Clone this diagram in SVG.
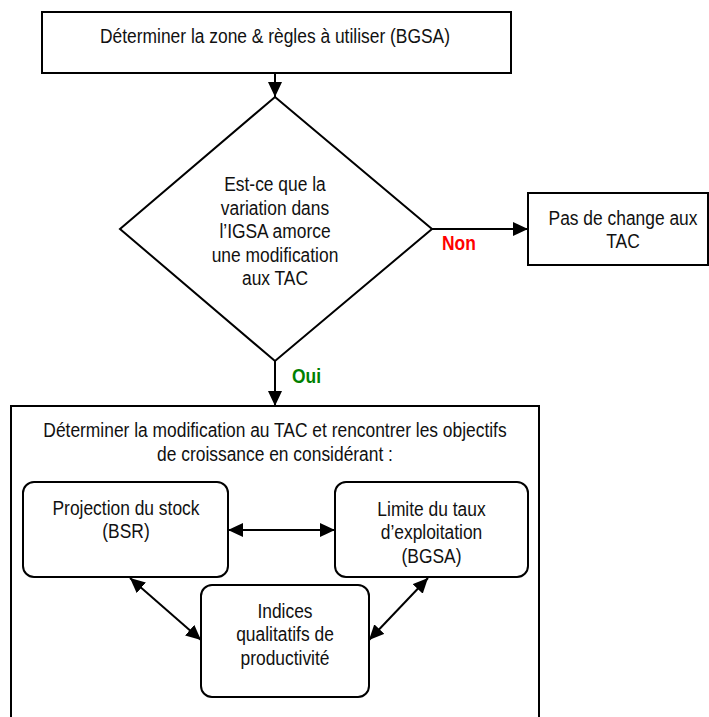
<svg xmlns="http://www.w3.org/2000/svg" width="709" height="717" viewBox="0 0 709 717">
<style>
  .box { fill: #fff; stroke: #000; stroke-width: 2; }
  .t { font-family: "Liberation Sans", Arial, sans-serif; font-size: 20px; fill: #111; text-anchor: middle; }
  .lbl { font-family: "Liberation Sans", Arial, sans-serif; font-size: 20px; font-weight: bold; }
  .conn { stroke: #000; stroke-width: 2; fill: none; }
</style>
<defs>
  <marker id="ah" markerUnits="userSpaceOnUse" markerWidth="16" markerHeight="14" refX="15" refY="7" orient="auto-start-reverse">
    <path d="M0,0 L15,7 L0,14 z" fill="#000"/>
  </marker>
</defs>
<rect width="709" height="717" fill="#fff"/>

<g id="connectors">
  <line class="conn" x1="275" y1="73" x2="275" y2="97" marker-end="url(#ah)"/>
  <line class="conn" x1="432" y1="229" x2="528" y2="229" marker-end="url(#ah)"/>
  <line class="conn" x1="275" y1="361" x2="275" y2="406" marker-end="url(#ah)"/>
</g>

<g id="start">
  <rect class="box" x="42" y="12" width="469" height="61"/>
  <g transform="matrix(0.87 0 0 1 35.75 0)">
    <text class="t" x="275" y="43">Déterminer la zone &amp; règles à utiliser (BGSA)</text>
  </g>
</g>

<g id="decision">
  <polygon class="box" points="275,97 432,229 275,361 120,229"/>
  <g transform="matrix(0.87 0 0 1 35.75 0)">
    <text class="t" x="275" y="191.5">Est-ce que la</text>
    <text class="t" x="275" y="215">variation dans</text>
    <text class="t" x="275" y="238.5">l’IGSA amorce</text>
    <text class="t" x="275" y="262">une modification</text>
    <text class="t" x="275" y="285.5">aux TAC</text>
  </g>
</g>

<g id="label-non">
  <text class="lbl" x="442" y="250" fill="#ff0000" transform="matrix(0.87 0 0 1 57.46 0)">Non</text>
</g>

<g id="no-change">
  <rect class="box" x="528" y="193" width="180" height="72"/>
  <g transform="matrix(0.87 0 0 1 80.99 0)">
    <text class="t" x="623" y="225">Pas de change aux</text>
    <text class="t" x="623" y="248">TAC</text>
  </g>
</g>

<g id="label-oui">
  <text class="lbl" x="292" y="383" fill="#008000" transform="matrix(0.87 0 0 1 37.96 0)">Oui</text>
</g>

<g id="modification">
  <rect class="box" x="11" y="406" width="528" height="330"/>
  <g transform="matrix(0.87 0 0 1 35.75 0)">
    <text class="t" x="275" y="437">Déterminer la modification au TAC et rencontrer les objectifs</text>
    <text class="t" x="275" y="461">de croissance en considérant :</text>
  </g>
</g>

<g id="stock">
  <rect class="box" x="23" y="482" width="205" height="95" rx="11"/>
  <g transform="matrix(0.87 0 0 1 16.38 0)">
    <text class="t" x="126" y="515">Projection du stock</text>
    <text class="t" x="126" y="538">(BSR)</text>
  </g>
</g>

<g id="exploitation">
  <rect class="box" x="335" y="482" width="193" height="95" rx="11"/>
  <g transform="matrix(0.87 0 0 1 56.095 0)">
    <text class="t" x="431.5" y="516">Limite du taux</text>
    <text class="t" x="431.5" y="539.5">d’exploitation</text>
    <text class="t" x="431.5" y="563">(BGSA)</text>
  </g>
</g>

<g id="indices">
  <rect class="box" x="201" y="585" width="168" height="112" rx="11"/>
  <g transform="matrix(0.87 0 0 1 37.05 0)">
    <text class="t" x="285" y="618">Indices</text>
    <text class="t" x="285" y="641.5">qualitatifs de</text>
    <text class="t" x="285" y="665">productivité</text>
  </g>
</g>

<g id="inner-connectors">
  <line class="conn" x1="228" y1="530" x2="335" y2="530" marker-start="url(#ah)" marker-end="url(#ah)"/>
  <line class="conn" x1="130" y1="578" x2="201" y2="640" marker-start="url(#ah)" marker-end="url(#ah)"/>
  <line class="conn" x1="428" y1="578" x2="369" y2="640" marker-start="url(#ah)" marker-end="url(#ah)"/>
</g>
</svg>
